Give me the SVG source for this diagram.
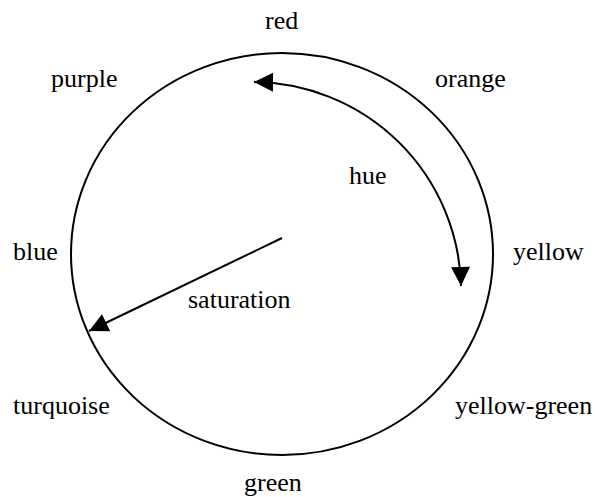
<svg xmlns="http://www.w3.org/2000/svg" width="595" height="497" viewBox="0 0 595 497">
<style>
.ln{fill:none;stroke:#000;stroke-width:2}
</style>
<defs>
<marker id="ah" viewBox="0 0 20 20" refX="20" refY="10" markerWidth="20" markerHeight="19" markerUnits="userSpaceOnUse" orient="auto-start-reverse">
<path d="M0,0 L20,10 L0,20 Z" fill="#000"/>
</marker>
</defs>
<rect width="595" height="497" fill="#fff"/>
<g id="wheel"><ellipse class="ln" cx="282" cy="254" rx="211" ry="201"/></g>
<g id="labels" font-family="'Liberation Serif', Tinos, 'Times New Roman', 'DejaVu Serif', serif" font-size="26" fill="#000">
<text x="265" y="29">red</text>
<text x="51" y="87">purple</text>
<text x="435" y="87">orange</text>
<text x="349" y="184">hue</text>
<text x="13" y="260">blue</text>
<text x="513" y="260">yellow</text>
<text x="188" y="308">saturation</text>
<text x="13" y="414">turquoise</text>
<text x="455" y="414">yellow-green</text>
<text x="244" y="491">green</text>
</g>
<g id="connectors">
<path class="ln" d="M254,82 A209,209 0 0 1 461,286" marker-start="url(#ah)" marker-end="url(#ah)"/>
<path class="ln" d="M282,238 L89,331" marker-end="url(#ah)"/>
</g>
</svg>
